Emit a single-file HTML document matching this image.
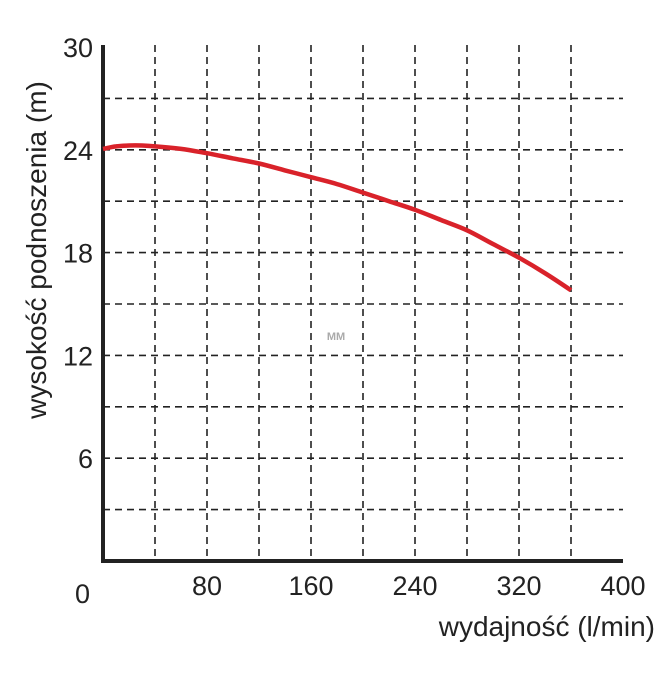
<!DOCTYPE html>
<html><head><meta charset="utf-8"><style>
body{margin:0;background:#fff;width:672px;height:672px;overflow:hidden}
svg text{font-family:"Liberation Sans",Arial,sans-serif;fill:#222}
</style></head><body>
<svg id="chart" width="672" height="672" viewBox="0 0 672 672" xmlns="http://www.w3.org/2000/svg">
<g id="grid"></g>
<g id="axes"></g>
<g id="series"></g>
<g id="labels"></g>
<text x="336" y="340" font-size="11" text-anchor="middle" style="fill:#aaa;font-weight:bold">MM</text>
<text x="655" y="636" font-size="28" text-anchor="end">wydajność (l/min)</text>
<text transform="translate(46,250) rotate(-90)" font-size="28" text-anchor="middle">wysokość podnoszenia (m)</text>
</svg>
<script>
const xTicks=[0,80,160,240,320,400];
const yTicks=[0,6,12,18,24,30];
const flowValues=[0,10,20,30,40,60,80,100,120,140,160,180,200,220,240,260,280,300,320,340,360];
const headValues=[24.05,24.2,24.25,24.25,24.2,24.05,23.8,23.5,23.2,22.8,22.4,22.0,21.5,21.0,20.5,19.9,19.3,18.5,17.7,16.8,15.8];
const X=v=>103+v*1.3, Y=v=>561-v*(514/30);
const NS="http://www.w3.org/2000/svg";
function mk(tag,parent,attrs){const e=document.createElementNS(NS,tag);for(const k in attrs)e.setAttribute(k,attrs[k]);document.getElementById(parent).appendChild(e);return e;}
for(let v=40;v<400;v+=40){const l=mk('line','grid',{x1:X(v),x2:X(v),y1:45,y2:561,stroke:'#222','stroke-width':1.6,'stroke-dasharray':'7,5'});

}
for(let v=3;v<30;v+=3){const l=mk('line','grid',{x1:103,x2:623,y1:Y(v),y2:Y(v),stroke:'#222','stroke-width':1.6,'stroke-dasharray':'7,5'});

}
const ya=mk('line','axes',{x1:103,x2:103,y1:45,y2:563,stroke:'#222','stroke-width':4});


const xa=mk('line','axes',{x1:101,x2:623,y1:561,y2:561,stroke:'#222','stroke-width':4});


xTicks.forEach(v=>{if(v===0)return;const t=mk('text','labels',{x:X(v),y:595,'font-size':27,'text-anchor':'middle'});t.textContent=v;

});
yTicks.forEach(v=>{const t=mk('text','labels',{x:v===0?90:93,y:v===0?603:Y(v)+10,'font-size':27,'text-anchor':'end'});t.textContent=v;

});
const pts=flowValues.map((f,i)=>[X(f),Y(headValues[i])]);
let d='M'+pts[0][0]+','+pts[0][1];
for(let i=0;i<pts.length-1;i++){const p0=pts[Math.max(0,i-1)],p1=pts[i],p2=pts[i+1],p3=pts[Math.min(pts.length-1,i+2)];
const c1=[p1[0]+(p2[0]-p0[0])/6,p1[1]+(p2[1]-p0[1])/6],c2=[p2[0]-(p3[0]-p1[0])/6,p2[1]-(p3[1]-p1[1])/6];
d+='C'+c1[0].toFixed(1)+','+c1[1].toFixed(1)+' '+c2[0].toFixed(1)+','+c2[1].toFixed(1)+' '+p2[0].toFixed(1)+','+p2[1].toFixed(1);}
const p=mk('path','series',{d:d,fill:'none',stroke:'#d9222a','stroke-width':4.5,'stroke-linejoin':'round'});


</script>
</body></html>
